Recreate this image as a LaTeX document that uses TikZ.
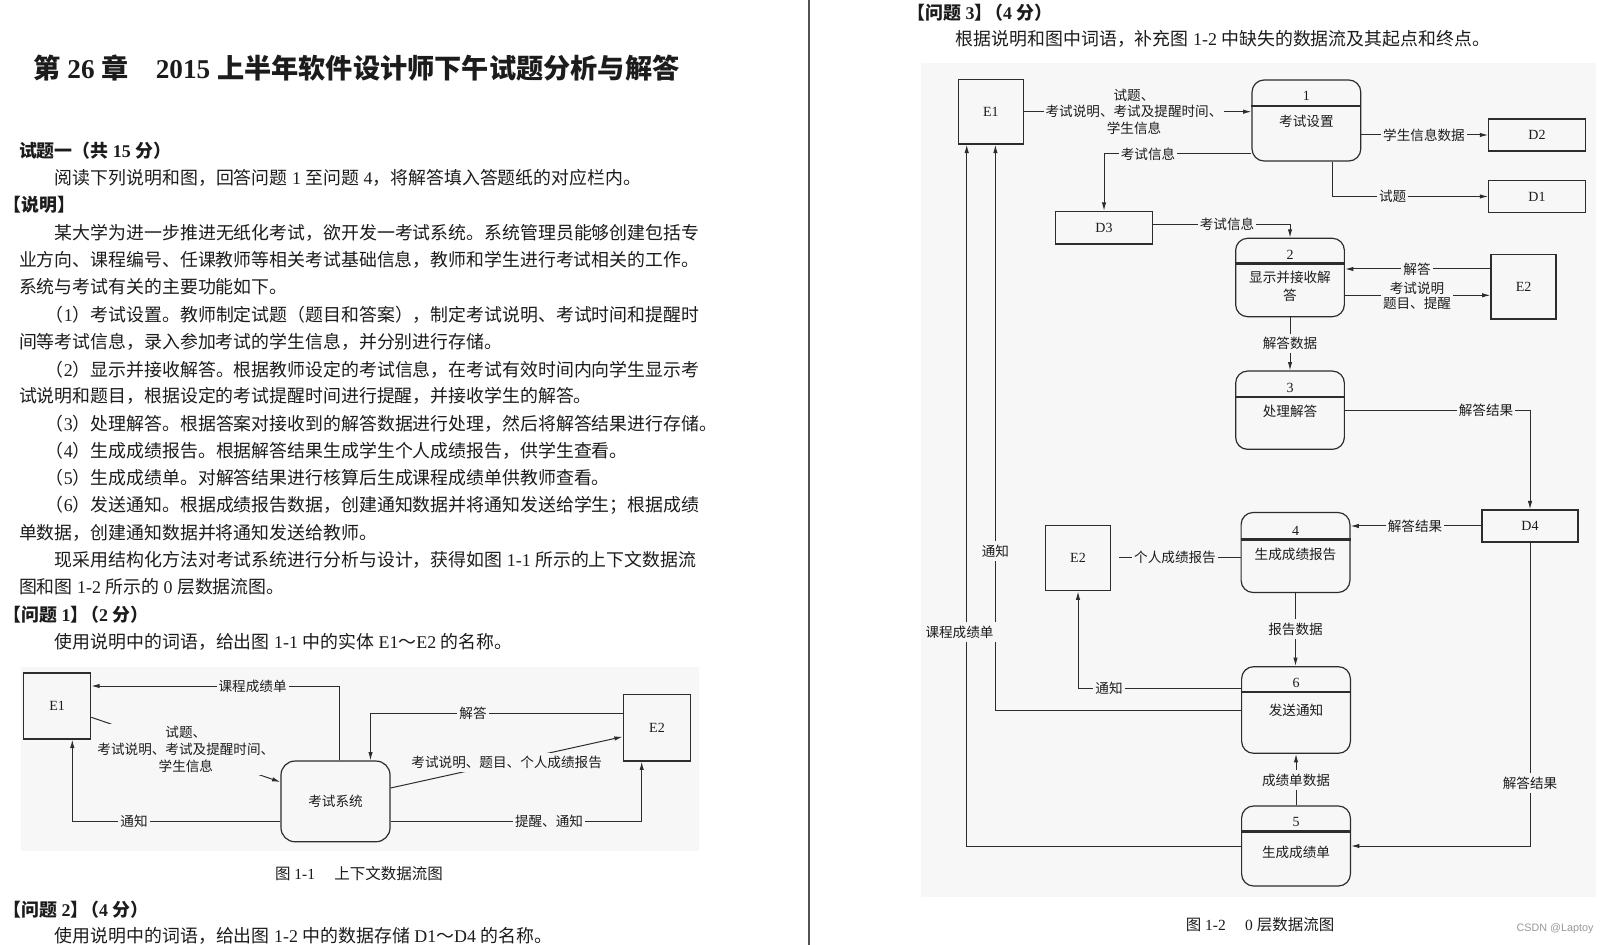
\documentclass[tikz,border=0pt]{standalone}
\usepackage{fontspec}
\setmainfont{Noto Sans CJK SC}
\newfontfamily\latf{Liberation Serif}
\newfontfamily\wmf{Liberation Sans}
\usetikzlibrary{arrows.meta,calc}
\newcommand\LT[1]{{\latf #1}}
\newcommand\LS[1]{\hspace{.25em}{\latf #1}\hspace{.25em}}
\newcommand\LL[1]{\hspace{.25em}{\latf #1}}
\newcommand\fsz[1]{\fontsize{#1pt}{#1pt}\selectfont}
\newcommand\fszb[2]{\fontsize{#1pt}{#2pt}\selectfont}
\definecolor{figbg}{RGB}{247,247,247}
\definecolor{ink}{RGB}{28,28,28}
\definecolor{lnc}{RGB}{45,45,45}
\definecolor{divc}{RGB}{78,83,88}
\tikzset{
  ttl/.style={anchor=west, inner sep=0pt, text=ink, font=\fsz{13.6}\bfseries, text height=11.7pt, text depth=1.6pt},
  txt/.style={anchor=west, inner sep=0pt, text=ink, font=\fsz{8.95}, text height=7.7pt, text depth=1.07pt},
  btxt/.style={txt, font=\fsz{8.95}\bfseries},
  captxt/.style={inner sep=0pt, text=ink, font=\fsz{7.75}, text height=6.67pt, text depth=0.93pt},
  lab/.style={inner xsep=1pt, inner ysep=1.5pt, fill=figbg, text=ink, font=\fsz{6.8}, text height=5.85pt, text depth=0.8pt},
  mlab/.style={inner xsep=1pt, inner ysep=1pt, fill=figbg, text=ink, align=center},
  ent/.style={draw=lnc, line width=0.6pt, inner sep=0pt, text=ink, font=\latf\fsz{7}},
  proc/.style={draw=lnc, line width=0.6pt, rounded corners=6pt, inner sep=0pt, text=ink, font=\fsz{6.8}},
  divl/.style={draw=lnc, line width=1.2pt},
  pnum/.style={inner sep=0pt, text=ink, font=\latf\fsz{7}},
  ptxt/.style={inner sep=0pt, text=ink, font=\fsz{6.8}, text height=5.85pt, text depth=0.8pt},
  arr/.style={draw=lnc, line width=0.5pt, -{Latex[length=4.2pt,width=2.2pt]}},
  plainln/.style={draw=lnc, line width=0.5pt},
}
\begin{document}
\begin{tikzpicture}[x=0.5pt,y=-0.5pt]
\useasboundingbox (0,0) rectangle (1609,945);
\fill[white] (0,0) rectangle (1609,945);
\fill[figbg] (20.5,667) rectangle (698.5,851);
\fill[figbg] (921,63.5) rectangle (1596,897);
\draw[line width=1.25pt, divc] (809,0) -- (809,945);

% ---------------- left column text ----------------
\node[ttl] (title) at (33,68) {第\LS{26}章\hspace{1em}\LT{2015}\hspace{.25em}上半年软件设计师下午试题分析与解答};
\node[btxt] (s1) at (18.6,151) {试题一（共\LS{15}分）};
\node[txt] (s2) at (54.5,177.5) {阅读下列说明和图，回答问题\LS{1}至问题\LL{4}，将解答填入答题纸的对应栏内。};
\node[btxt] (s3) at (3,205) {【说明】};
\node[txt] (s4) at (54.5,233) {某大学为进一步推进无纸化考试，欲开发一考试系统。系统管理员能够创建包括专};
\node[txt] (s5) at (18.6,259.6) {业方向、课程编号、任课教师等相关考试基础信息，教师和学生进行考试相关的工作。};
\node[txt] (s6) at (18.6,287) {系统与考试有关的主要功能如下。};
\node[txt] (s7) at (54.5,315) {\hspace{-.5em}（\LT{1}）考试设置。教师制定试题（题目和答案），制定考试说明、考试时间和提醒时};
\node[txt] (s8) at (18.6,342) {间等考试信息，录入参加考试的学生信息，并分别进行存储。};
\node[txt] (s9) at (54.5,369.5) {\hspace{-.5em}（\LT{2}）显示并接收解答。根据教师设定的考试信息，在考试有效时间内向学生显示考};
\node[txt] (s10) at (18.6,396) {试说明和题目，根据设定的考试提醒时间进行提醒，并接收学生的解答。};
\node[txt] (s11) at (54.5,424) {\hspace{-.5em}（\LT{3}）处理解答。根据答案对接收到的解答数据进行处理，然后将解答结果进行存储。};
\node[txt] (s12) at (54.5,450.5) {\hspace{-.5em}（\LT{4}）生成成绩报告。根据解答结果生成学生个人成绩报告，供学生查看。};
\node[txt] (s13) at (54.5,478) {\hspace{-.5em}（\LT{5}）生成成绩单。对解答结果进行核算后生成课程成绩单供教师查看。};
\node[txt] (s14) at (54.5,505) {\hspace{-.5em}（\LT{6}）发送通知。根据成绩报告数据，创建通知数据并将通知发送给学生；根据成绩};
\node[txt] (s15) at (18.6,532.6) {单数据，创建通知数据并将通知发送给教师。};
\node[txt] (s16) at (54.5,560) {现采用结构化方法对考试系统进行分析与设计，获得如图\LS{1-1}所示的上下文数据流};
\node[txt] (s17) at (18.6,587) {图和图\LS{1-2}所示的\LS{0}层数据流图。};
\node[btxt] (s18) at (3,614.7) {【问题\LL{1}】\hspace{-.4em}（\LT{2}\hspace{.25em}分）};
\node[txt] (s19) at (54.5,642) {使用说明中的词语，给出图\LS{1-1}中的实体\hspace{.25em}\LT{E1}～\LT{E2}\hspace{.25em}的名称。};
\node[captxt] (cap1) at (359,874) {图\LS{1-1}\hspace{1em}上下文数据流图};
\node[btxt] (s20) at (3,910) {【问题\LL{2}】\hspace{-.4em}（\LT{4}\hspace{.25em}分）};
\node[txt] (s21) at (54.5,936) {使用说明中的词语，给出图\LS{1-2}中的数据存储\hspace{.25em}\LT{D1}～\LT{D4}\hspace{.25em}的名称。};

% ---------------- figure 1-1 ----------------
\node[ent, minimum width=33.5pt, minimum height=33pt] (E1) at (57.2,706) {E1};
\node[ent, minimum width=33.65pt, minimum height=33.15pt] (E2) at (657,727.8) {E2};
\node[proc, rounded corners=7pt, minimum width=54.5pt, minimum height=40.35pt] (Sys) at (335.5,801.4) {考试系统};

\draw[arr] ($(Sys.north)+(4,0)$) |- ($(E1.east)+(0,-20)$);
\draw[arr] ($(E2.west)+(0,-14.8)$) -| ($(Sys.north)+(35,0)$);
\draw[arr] ($(E1.east)+(0,11.3)$) -- node[mlab, font=\fszb{6.8}{8.5}] (f1c) {试题、\\考试说明、考试及提醒时间、\\学生信息} ($(Sys.west)+(0,-19.4)$);
\draw[arr] ($(Sys.east)+(0,-13.4)$) -- node[lab] (f1d) {考试说明、题目、个人成绩报告} ($(E2.west)+(0,8.9)$);
\draw[arr] ($(Sys.west)+(0,19.6)$) -| ($(E1.south)+(15.1,0)$);
\draw[arr] ($(Sys.east)+(0,19.6)$) -| ($(E2.south)+(-15.3,0)$);
\node[lab] (f1a) at (252.6,686) {课程成绩单};
\node[lab] (f1b) at (473,713) {解答};
\node[lab] (f1e) at (134,821) {通知};
\node[lab] (f1f) at (549,821) {提醒、通知};

% ---------------- right column text ----------------
\node[btxt] (q3) at (907,13.3) {【问题\LL{3}】\hspace{-.4em}（\LT{4}\hspace{.25em}分）};
\node[txt] (q3t) at (955.5,39) {根据说明和图中词语，补充图\LS{1-2}中缺失的数据流及其起点和终点。};
\node[captxt] (cap2) at (1260,924.6) {图\LS{1-2}\hspace{1em}\LT{0}\hspace{.25em}层数据流图};
\node[anchor=east, inner sep=0pt, font=\wmf\fsz{5.4}, text=black!40] (wm) at (1594,929) {CSDN @Laptoy};

% ---------------- figure 1-2 ----------------
\node[ent, minimum width=32.5pt, minimum height=32.35pt] (E1a) at (990.8,111.7) {E1};
\node[ent, minimum width=48.25pt, minimum height=16pt] (D2) at (1537,135) {D2};
\node[ent, minimum width=48.25pt, minimum height=16pt] (D1) at (1537,196.5) {D1};
\node[ent, minimum width=48.25pt, minimum height=16.3pt] (D3) at (1104,227.7) {D3};
\node[ent, minimum width=32.5pt, minimum height=32.25pt] (E2a) at (1523.5,286.8) {E2};
\node[ent, minimum width=48pt, minimum height=16pt] (D4) at (1530,526) {D4};
\node[ent, minimum width=32.35pt, minimum height=32.8pt] (E2b) at (1078,558) {E2};

% process 1
\node[proc, minimum width=54.35pt, minimum height=40.5pt] (P1) at (1306.4,120.5) {};
\draw[divl] ($(P1.north west)+(0,26.7)$) -- ($(P1.north east)+(0,26.7)$);
\node[pnum] (P1n) at ($(P1.north)+(0,16.7)$) {1};
\node[ptxt] (P1t) at ($(P1.north)+(0,41.7)$) {考试设置};
% process 2
\node[proc, minimum width=54.35pt, minimum height=39.2pt] (P2) at (1290,277.5) {};
\draw[divl] ($(P2.north west)+(0,26)$) -- ($(P2.north east)+(0,26)$);
\node[pnum] (P2n) at ($(P2.north)+(0,17.2)$) {2};
\node[inner sep=0pt, text=ink, align=center, font=\fszb{6.8}{9.2}] (P2t) at ($(P2.north)+(0,48.4)$) {显示并接收解\\答};
% process 3
\node[proc, minimum width=54.35pt, minimum height=39.15pt] (P3) at (1290,410.2) {};
\draw[divl] ($(P3.north west)+(0,26.3)$) -- ($(P3.north east)+(0,26.3)$);
\node[pnum] (P3n) at ($(P3.north)+(0,17)$) {3};
\node[ptxt] (P3t) at ($(P3.north)+(0,40.7)$) {处理解答};
% process 4
\node[proc, minimum width=54.4pt, minimum height=40pt] (P4) at (1295.5,552.5) {};
\draw[divl] ($(P4.north west)+(0,27.5)$) -- ($(P4.north east)+(0,27.5)$);
\node[pnum] (P4n) at ($(P4.north)+(0,19)$) {4};
\node[ptxt] (P4t) at ($(P4.north)+(0,43)$) {生成成绩报告};
% process 6
\node[proc, minimum width=54.4pt, minimum height=43.3pt] (P6) at (1296,710) {};
\draw[divl] ($(P6.north west)+(0,26)$) -- ($(P6.north east)+(0,26)$);
\node[pnum] (P6n) at ($(P6.north)+(0,17.3)$) {6};
\node[ptxt] (P6t) at ($(P6.north)+(0,44.3)$) {发送通知};
% process 5
\node[proc, minimum width=54.4pt, minimum height=40pt] (P5) at (1296,846) {};
\draw[divl] ($(P5.north west)+(0,26)$) -- ($(P5.north east)+(0,26)$);
\node[pnum] (P5n) at ($(P5.north)+(0,17)$) {5};
\node[ptxt] (P5t) at ($(P5.north)+(0,47.5)$) {生成成绩单};

% connectors
\draw[arr] (E1a.east) -- (E1a.east -| P1.west);
\draw[arr] (P1.east |- D2.west) -- (D2.west);
\draw[arr] ($(P1.south)+(26,0)$) |- (D1.west);
\draw[arr] ($(P1.west)+(0,33.5)$) -| (D3.north);
\draw[arr] ($(D3.east)+(0,-3)$) -| (P2.north);
\draw[arr] ($(E2a.west)+(0,-17.8)$) coordinate (ea) -- (ea -| P2.east);
\draw[arr] ($(P2.east)+(0,17.8)$) coordinate (eb) -- (eb -| E2a.west);
\draw[arr] (P2.south) -- (P3.north);
\draw[arr] (P3.east) -| (D4.north);
\draw[arr] (D4.west) -- (D4.west -| P4.east);
\draw[plainln, shorten >=4pt] ($(P4.west)+(0,4.5)$) coordinate (ec) -- (ec -| E2b.east);
\draw[arr] (P4.south) -- (P4.south |- P6.north);
\draw[arr] ($(P6.west)+(0,-21.5)$) -| (E2b.south);
\draw[arr] (P6.west) -| ($(E1a.south)+(4.6,0)$);
\draw[arr] (P5.west) -| ($(E1a.south)+(-24.1,0)$);
\draw[arr] (P5.north) -- (P6.south);
\draw[arr] (D4.south) |- (P5.east);

% connector labels
\node[mlab, font=\fszb{6.8}{8.3}] (g1) at (1134,111.7) {试题、\\考试说明、考试及提醒时间、\\学生信息};
\node[lab] (g2) at (1424,135) {学生信息数据};
\node[lab] (g3) at (1392.6,196.5) {试题};
\node[lab] (g4) at (1148,154) {考试信息};
\node[lab] (g5) at (1227,224.7) {考试信息};
\node[lab] (g6) at (1417,269) {解答};
\node[mlab, font=\fszb{6.8}{7.6}] (g7) at (1417,295.8) {考试说明\\题目、提醒};
\node[lab] (g8) at (1290,343.8) {解答数据};
\node[lab] (g9) at (1486,410.3) {解答结果};
\node[lab] (g10) at (1415,526) {解答结果};
\node[lab] (g11) at (1175,557) {个人成绩报告};
\node[lab] (g12) at (1295.5,629) {报告数据};
\node[lab] (g13) at (1109,688.5) {通知};
\node[lab] (g14) at (995.4,551) {通知};
\node[lab] (g15) at (959.5,632) {课程成绩单};
\node[lab] (g16) at (1296,780) {成绩单数据};
\node[lab] (g17) at (1530,783) {解答结果};
\end{tikzpicture}
\end{document}
